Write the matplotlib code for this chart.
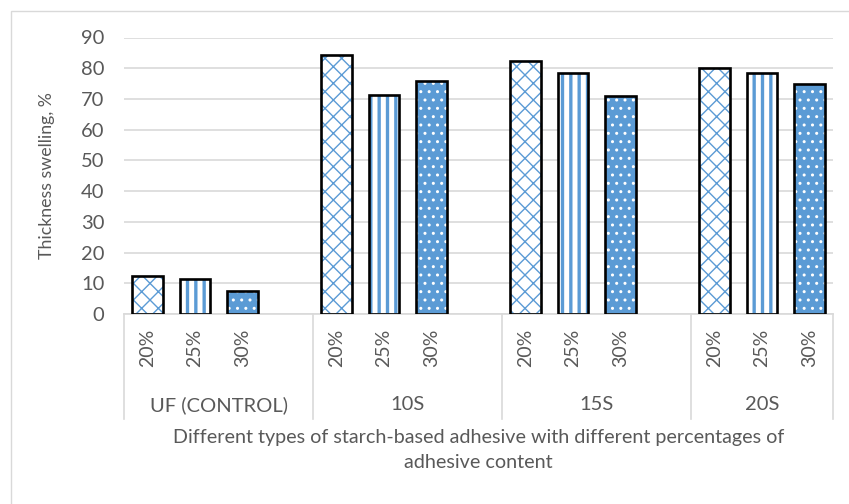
import matplotlib.pyplot as plt
from matplotlib.patches import Rectangle
from matplotlib.transforms import blended_transform_factory

# data
groups = ["UF (CONTROL)", "10S", "15S", "20S"]
contents = ["20%", "25%", "30%"]
swell_20 = [12.3, 84.3, 82.3, 80.2]
swell_25 = [11.4, 71.4, 78.5, 78.5]
swell_30 = [7.6, 76.0, 71.0, 74.8]
y_ticks = [0, 10, 20, 30, 40, 50, 60, 70, 80, 90]

BLUE = "#5B9BD5"
GRID = "#D9D9D9"
TEXT = "#595959"

plt.rcParams['font.family'] = ['Lato', 'DejaVu Sans']

W, H = 849, 504
fig = plt.figure(figsize=(W / 100, H / 100), dpi=100)
ax = fig.add_axes([124 / W, 1 - 314 / H, (833 - 124) / W, (314 - 37.5) / H])

# outer chart border
fig.add_artist(Rectangle((11 / W, -0.1), 2, 1 - 11 / H + 0.1, transform=fig.transFigure,
                         fill=False, edgecolor=GRID, linewidth=1))

# slots: 3 bars per group plus an empty slot between groups
slot = 4
styles = [
    # (values, face, hatch color, hatch, hatch lw)
    (swell_20, "white", BLUE, "xx", 1.0),
    (swell_25, "white", BLUE, "||", 2.4),
    (swell_30, BLUE, "white", "..", 1.0),
]
bw = 0.65
for k, (vals, face, hcol, hatch, hlw) in enumerate(styles):
    xs = [g * slot + k for g in range(len(groups))]
    bars = ax.bar(xs, vals, width=bw, color=face, edgecolor=hcol, hatch=hatch,
                  linewidth=0, zorder=2)
    for b in bars:
        b.set_hatch_linewidth(hlw)
    ax.bar(xs, vals, width=bw, fill=False, edgecolor="black", linewidth=1.9, zorder=3)

n_slots = slot * len(groups) - 1
ax.set_xlim(-0.5, n_slots - 0.5)
ax.set_ylim(0, 90)
ax.set_yticks(y_ticks)
ax.yaxis.grid(True, color=GRID, linewidth=1.2)
ax.set_axisbelow(True)
for s in ["top", "right", "left"]:
    ax.spines[s].set_visible(False)
ax.spines["bottom"].set_color(GRID)
ax.spines["bottom"].set_linewidth(1.2)
ax.tick_params(axis="y", length=0, pad=14, labelsize=14.5, labelcolor=TEXT)
ax.set_xticks([])

# multi-level category axis
trans = blended_transform_factory(ax.transData, fig.transFigure)
bounds = [-0.5] + [g * slot + 3.5 for g in range(len(groups) - 1)] + [n_slots - 0.5]
for g, name in enumerate(groups):
    for k, lab in enumerate(contents):
        ax.text(g * slot + k, 1 - 348 / H, lab, rotation=90, ha="center", va="center",
                fontsize=14, color=TEXT, transform=trans)
    center = (bounds[g] + bounds[g + 1]) / 2
    ax.text(center, 1 - 405 / H, name, ha="center", va="center", fontsize=14.5,
            color=TEXT, transform=trans)
for bx in bounds:
    ax.plot([bx, bx], [1 - 314 / H, 1 - 419 / H], color=GRID, linewidth=1.2,
            transform=trans, clip_on=False)

fig.text(478.5 / W, 1 - 437 / H, "Different types of starch-based adhesive with different percentages of",
         ha="center", va="center", fontsize=14.2, color=TEXT)
fig.text(478.5 / W, 1 - 462 / H, "adhesive content", ha="center", va="center",
         fontsize=14.2, color=TEXT)
fig.text(47 / W, 1 - 176 / H, "Thickness swelling, %", rotation=90, ha="center",
         va="center", fontsize=12.8, color=TEXT)

fig.savefig("out.png", dpi=100)
